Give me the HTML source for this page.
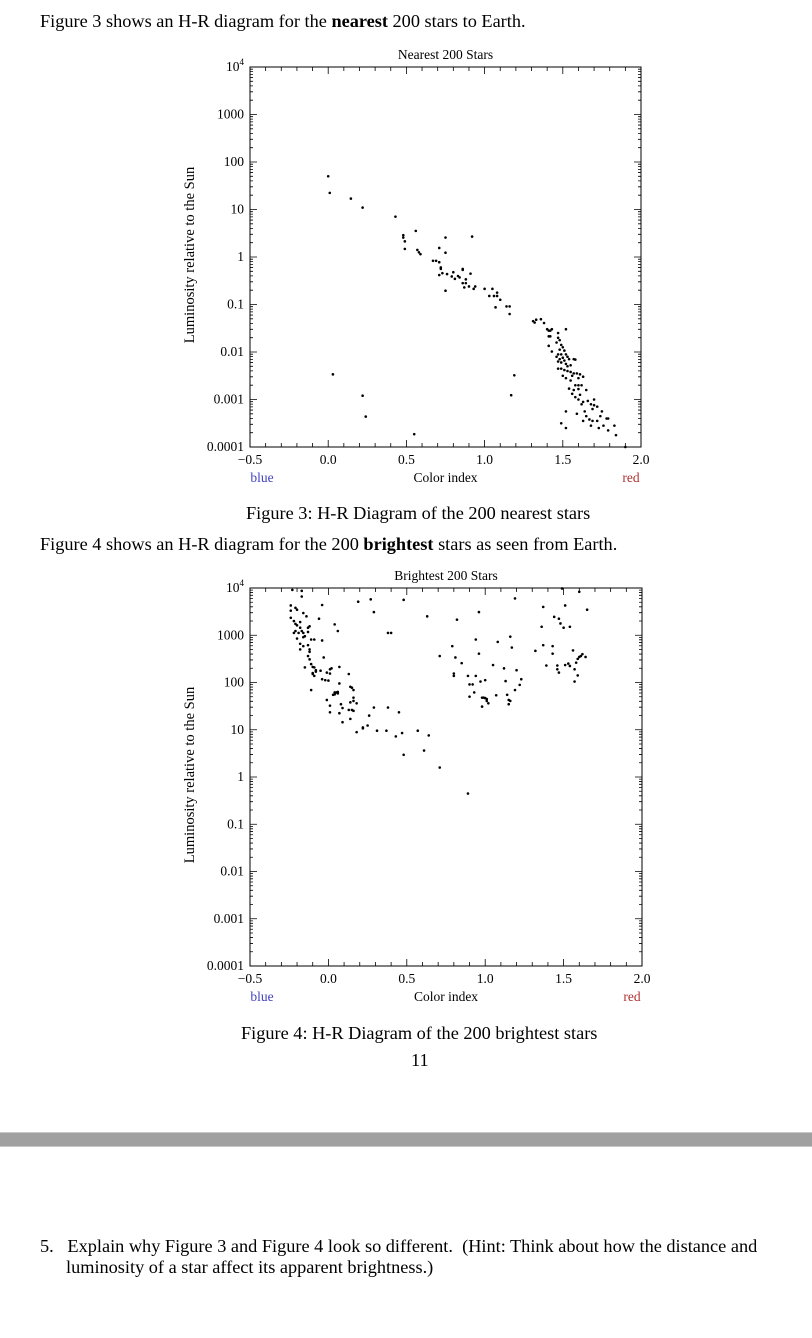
<!DOCTYPE html>
<html><head><meta charset="utf-8"><style>
body{margin:0;background:#fff;width:812px;height:1338px;position:relative;overflow:hidden;font-family:"Liberation Serif",serif;color:#000}
.t{position:absolute;white-space:nowrap}
svg{position:absolute;left:0;top:0}
</style></head><body>
<div class="t" style="left:40px;top:11px;font-size:18.3px">Figure 3 shows an H-R diagram for the <b>nearest</b> 200 stars to Earth.</div>
<div class="t" style="left:246px;top:503px;font-size:18.3px">Figure 3: H-R Diagram of the 200 nearest stars</div>
<div class="t" style="left:40px;top:534px;font-size:18.3px">Figure 4 shows an H-R diagram for the 200 <b>brightest</b> stars as seen from Earth.</div>
<div class="t" style="left:241px;top:1023px;font-size:18.3px">Figure 4: H-R Diagram of the 200 brightest stars</div>
<div class="t" style="left:411px;top:1050px;font-size:18.3px">11</div>
<div style="position:absolute;left:0;top:1132px;width:812px;height:15px;background:#a0a0a0;border-top:1px solid #c8c8c8;border-bottom:1px solid #c8c8c8;box-sizing:border-box"></div>
<div class="t" style="left:40px;top:1236px;font-size:18.3px;line-height:21px">5.&nbsp;&nbsp; Explain why Figure 3 and Figure 4 look so different.&nbsp; (Hint: Think about how the distance and<br><span style="padding-left:26px">luminosity of a star affect its apparent brightness.)</span></div>
<svg id="s" width="812" height="1338"></svg>
<script>
const nearC=[0,0.01,0.145,0.22,0.43,0.48,0.48,0.49,0.49,0.56,0.57,0.58,0.59,0.67,0.69,0.71,0.71,0.72,0.72,0.71,0.73,0.75,0.75,0.75,0.76,0.79,0.80,0.81,0.83,0.84,0.86,0.86,0.86,0.87,0.88,0.88,0.90,0.91,0.92,0.93,0.94,1.0,1.03,1.05,1.06,1.08,1.08,1.10,1.07,1.14,1.16,1.16,1.19,1.17,0.03,0.22,0.24,0.55,1.31,1.32,1.33,1.36,1.38,1.40,1.41,1.42,1.43,1.41,1.42,1.47,1.52,1.41,1.43,
1.47,1.48,1.46,1.49,1.5,1.48,1.51,1.47,1.49,1.52,1.53,1.46,1.48,1.5,1.51,1.54,1.57,1.58,1.47,1.49,1.52,1.53,1.55,1.47,1.49,1.51,1.53,1.55,1.57,1.59,1.61,1.5,1.52,1.56,1.6,1.63,1.55,1.58,1.6,1.62,1.54,1.57,1.6,1.65,1.56,1.58,1.61,1.6,1.63,1.66,1.7,1.62,1.68,1.7,1.64,1.69,1.72,1.59,1.52,1.65,1.63,1.67,1.69,1.74,1.75,1.78,1.72,1.49,1.52,1.68,1.73,1.76,1.79,1.83,1.79,1.84,1.9];
const nearLogL=[1.70,1.35,1.23,1.04,0.85,0.46,0.41,0.33,0.17,0.55,0.15,0.10,0.06,-0.08,-0.08,-0.11,0.19,-0.22,-0.25,-0.38,-0.34,0.41,0.09,-0.71,-0.36,-0.41,-0.32,-0.46,-0.40,-0.43,-0.25,-0.27,-0.55,-0.64,-0.47,-0.55,-0.62,-0.35,0.43,-0.67,-0.62,-0.67,-0.82,-0.67,-0.82,-0.82,-0.75,-0.90,-1.06,-1.04,-1.04,-1.2,-2.49,-2.91,-2.47,-2.92,-3.36,-3.73,-1.35,-1.38,-1.32,-1.31,-1.39,-1.52,-1.55,-1.55,-1.52,-1.67,-1.67,-1.6,-1.52,-1.87,-1.99,
-1.7,-1.75,-1.8,-1.85,-1.9,-1.95,-1.97,-2.05,-2.05,-2.05,-2.1,-2.1,-2.15,-2.12,-2.18,-2.15,-2.15,-2.16,-2.2,-2.22,-2.25,-2.3,-2.28,-2.35,-2.35,-2.38,-2.4,-2.42,-2.45,-2.45,-2.47,-2.5,-2.55,-2.5,-2.55,-2.52,-2.6,-2.7,-2.7,-2.7,-2.77,-2.8,-2.78,-2.8,-2.88,-2.95,-2.9,-3.0,-3.05,-3.03,-3.0,-3.1,-3.1,-3.12,-3.25,-3.2,-3.15,-3.3,-3.25,-3.35,-3.45,-3.42,-3.45,-3.35,-3.25,-3.4,-3.45,-3.5,-3.6,-3.55,-3.6,-3.55,-3.4,-3.55,-3.65,-3.75,-4.0];
const brightC=[-.23,-.17,-.17,-.24,-.24,-.21,-.2,-.24,-.22,-.21,-.2,-.18,-.16,-.14,-.18,-.22,-.21,-.19,-.17,-.16,-.13,-.12,-.13,-.16,-.15,-.2,-.18,-.16,-.13,-.12,-.12,-.18,-.13,-.12,-.15,-.11,-.1,-.09,-.08,-.08,-.11,-.09,-.06,-.04,-.04,-.03,-.1,-.1,-.09,-.11,-.05,-.04,-.02,0,-.01,.01,.01,.02,.04,.06,.07,.07,.04,.04,.05,.06,.06,.03,-.01,.01,.01,.08,.07,.09,.13,.14,.15,.16,.16,.14,.16,.13,.15,.16,.14,.18,.09,.18,.22,.22,.25,.26,.29,.31,.37,.38,.43,.45,.47,.48,.57,.61,.64,.71,.89,
.19,.27,.29,.38,.4,.48,.63,.71,
.79,.8,.8,.81,.82,.85,.89,.9,.92,.9,.93,.94,.94,.96,.96,.97,.98,.99,1.0,1.01,1.01,.98,1.02,1.0,1.05,1.07,1.08,1.12,1.13,1.14,1.15,1.15,1.16,1.16,1.17,1.19,1.19,1.2,1.22,1.23,
1.32,1.36,1.37,1.37,1.39,1.43,1.43,1.44,1.46,1.46,1.47,1.48,1.49,1.5,1.51,1.47,1.51,1.53,1.54,1.54,1.56,1.57,1.57,1.59,1.58,1.59,1.6,1.6,1.61,1.62,1.64,1.65];
const brightLogL=[3.96,3.94,3.82,3.63,3.52,3.58,3.54,3.37,3.3,3.24,3.21,3.28,3.47,3.4,3.16,3.05,3.09,3.05,3.09,3.05,3.16,3.19,3.07,2.96,2.98,2.93,2.82,2.77,2.79,2.7,2.65,2.7,2.56,2.49,2.32,2.39,2.33,2.32,2.26,2.23,2.91,2.91,3.35,3.64,2.89,2.53,2.2,2.18,2.14,1.84,2.25,2.07,2.05,2.04,2.21,2.28,2.19,2.3,3.23,3.09,2.33,1.98,1.75,1.79,1.79,1.77,1.8,1.74,1.63,1.51,1.37,1.54,1.35,1.46,2.18,1.91,1.89,1.84,1.68,1.58,1.61,1.42,1.42,1.4,1.23,1.56,1.16,0.95,1.03,1.05,1.09,1.3,1.47,0.98,0.98,1.47,0.86,1.37,0.93,0.47,0.98,0.56,0.88,0.2,-0.35,
3.71,3.76,3.49,3.05,3.05,3.75,3.4,2.56,
2.77,2.14,2.19,2.53,3.33,2.41,2.14,1.96,1.96,1.7,1.79,2.91,2.14,2.61,3.49,2.02,1.68,1.68,1.67,1.65,1.61,1.49,1.56,2.05,2.37,1.73,2.86,2.3,2.03,1.74,1.63,1.54,1.61,2.97,2.74,1.84,3.78,2.26,1.95,2.07,
2.67,3.18,3.6,2.79,2.36,2.77,2.61,3.39,2.36,2.28,3.35,3.25,3.99,3.16,3.63,2.21,2.37,2.4,3.18,2.35,2.68,2.28,2.02,2.15,2.42,2.5,2.54,3.92,2.56,2.6,2.54,3.54];
const xTicks=["\u22120.5","0.0","0.5","1.0","1.5","2.0"];
const yTicks=["0.0001","0.001","0.01","0.1","1","10","100","1000","10^4"];

const NS="http://www.w3.org/2000/svg",svg=document.getElementById('s');
function mk(t,a,p){const e=document.createElementNS(NS,t);for(const k in a)e.setAttribute(k,a[k]);(p||svg).appendChild(e);return e;}
function chart(L,T,R,B,title,cs,ls,name){
  const g=mk('g',{});
  
  
  const X=c=>L+(c+0.5)/2.5*(R-L), Y=e=>B-(e+4)/8*(B-T);
  const f='font-family:"Liberation Serif",serif;font-size:13.5px';
  const ax=mk('rect',{x:L,y:T,width:R-L,height:B-T,fill:'none',stroke:'#000','stroke-width':1},g);
  
  
  let d='';
  for(let i=0;i<=25;i++){const x=X(-0.5+i*0.1),len=i%5==0?7:4;d+=`M${x} ${B}v${-len}M${x} ${T}v${len}`;}
  for(let e=-4;e<=4;e++){const y=Y(e);d+=`M${L} ${y}h7M${R} ${y}h-7`;
    if(e<4)for(let m=2;m<=9;m++){const yy=Y(e+Math.log10(m));d+=`M${L} ${yy}h3M${R} ${yy}h-3`;}}
  mk('path',{d:d,stroke:'#000','stroke-width':0.8,fill:'none'},g);
  xTicks.forEach((t,i)=>{const tx=mk('text',{x:X(-0.5+i*0.5),y:B+17,'text-anchor':'middle',style:f},g);tx.textContent=t;
    
    });
  yTicks.forEach((t,i)=>{const tx=mk('text',{x:L-6,y:Y(i-4)+4,'text-anchor':'end',style:f},g);
    
    
    if(t.indexOf('^')>0){tx.textContent='10';const s=mk('tspan',{dy:-6,style:'font-size:9px'},tx);s.textContent='4';}else tx.textContent=t;});
  const tt=mk('text',{x:(L+R)/2,y:T-8,'text-anchor':'middle',style:f},g);tt.textContent=title;
  
  
  const xl=mk('text',{x:(L+R)/2,y:B+35,'text-anchor':'middle',style:f},g);xl.textContent='Color index';
  
  
  const bl=mk('text',{x:X(-0.5)+12,y:B+35,'text-anchor':'middle',style:f,fill:'#4040c0'},g);bl.textContent='blue';
  
  
  const rl=mk('text',{x:R-10,y:B+35,'text-anchor':'middle',style:f,fill:'#b03030'},g);rl.textContent='red';
  
  
  const cy=(T+B)/2-2,yl=mk('text',{x:194,y:cy,'text-anchor':'middle',transform:`rotate(-90 194 ${cy})`,style:'font-family:"Liberation Serif",serif;font-size:14.5px'},g);yl.textContent='Luminosity relative to the Sun';
  
  
  cs.forEach((c,i)=>{const p=mk('circle',{cx:X(c),cy:Y(ls[i]),r:1.3,fill:'#000'},g);
    
    });
}
chart(250,67,641,447,'Nearest 200 Stars',nearC,nearLogL,'nearest-stars-chart');
chart(250,588,642,966,'Brightest 200 Stars',brightC,brightLogL,'brightest-stars-chart');
</script>
</body></html>
